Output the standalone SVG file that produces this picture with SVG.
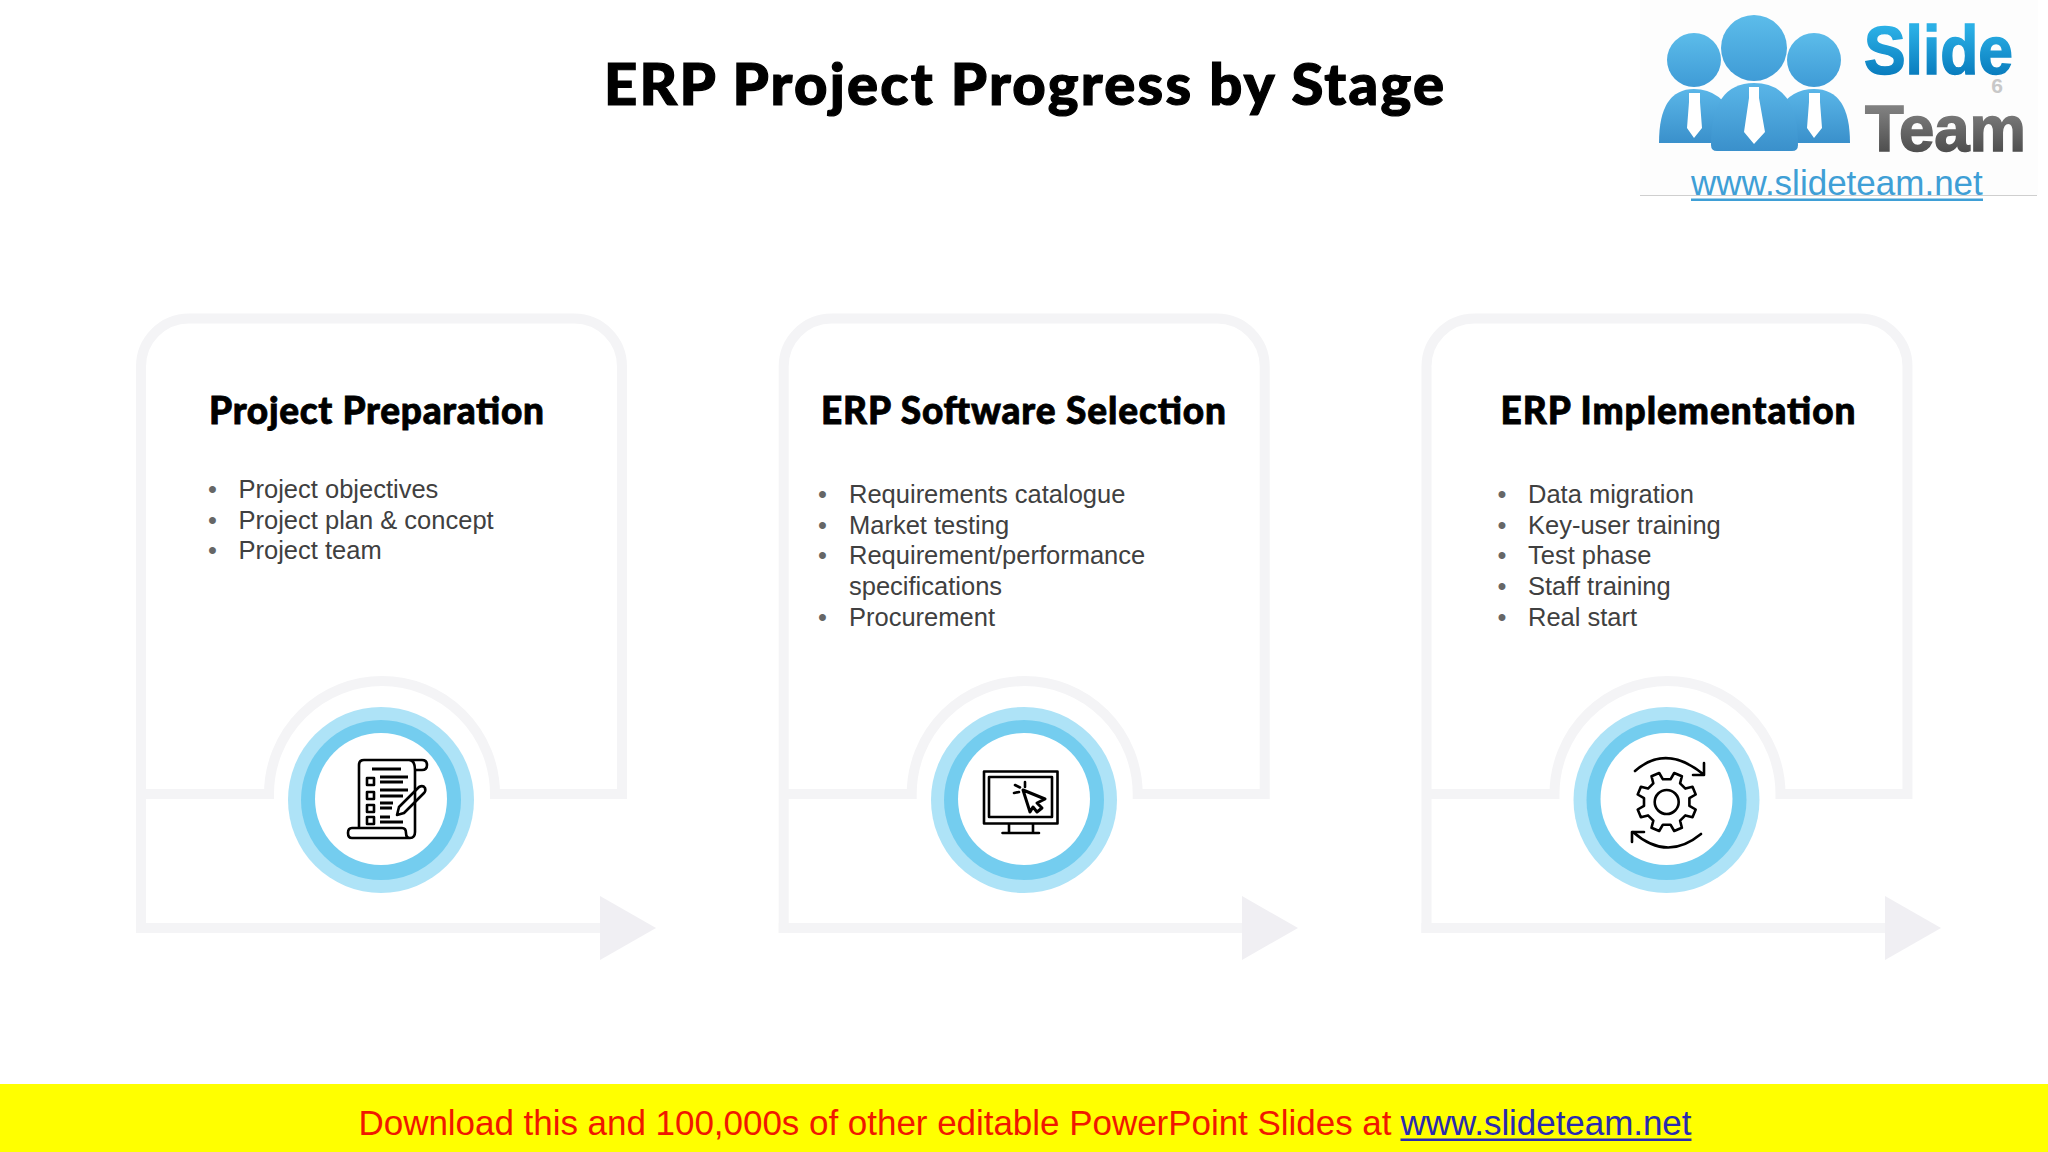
<svg xmlns="http://www.w3.org/2000/svg" width="2048" height="1152" viewBox="0 0 2048 1152">
<style>
text{font-family:"Liberation Sans",Arial,sans-serif}
.title{font-family:Lato,"Liberation Sans",sans-serif;font-weight:900;fill:#000;stroke:#000;stroke-width:1.200}
.h{font-size:37px;stroke-width:.8px}
.b{font-size:25.5px;fill:#404040}
.d{font-size:25.4px;fill:#666}
.frame{fill:none;stroke:#f4f4f6;stroke-width:10}
.conn{fill:none;stroke:#f4f4f6;stroke-width:10}
.ic{fill:none;stroke:#000;stroke-width:2.6;stroke-linejoin:round;stroke-linecap:round}
.ic2{fill:none;stroke:#000;stroke-width:3.2;stroke-linecap:butt}
.o{fill:#aee3f7}.m{fill:#74cdef}.w{fill:#fff}
.body{fill:url(#gb)}.head{fill:url(#gh)}.tie{fill:#fff}
</style>
<defs>
<linearGradient id="gh" x1="0" y1="0" x2="0" y2="1"><stop offset="0" stop-color="#5cbcea"/><stop offset="1" stop-color="#3f9bd6"/></linearGradient>
<linearGradient id="gb" x1="0" y1="0" x2="0" y2="1"><stop offset="0" stop-color="#5ab6e8"/><stop offset="1" stop-color="#3a90cb"/></linearGradient>
<linearGradient id="gs" x1="0" y1="0" x2="0" y2="1"><stop offset="0.2" stop-color="#2bb0e6"/><stop offset="1" stop-color="#006fb3"/></linearGradient>
<linearGradient id="gt" x1="0" y1="0" x2="0" y2="1"><stop offset="0.2" stop-color="#808080"/><stop offset="1" stop-color="#404040"/></linearGradient>
<marker id="ah" markerUnits="userSpaceOnUse" markerWidth="56" markerHeight="64" refX="0" refY="32" orient="auto" viewBox="0 0 56 64"><path d="M0 0L56 32L0 64Z" fill="#f0eff3"/></marker>
<g id="frameShape"><path class="frame" d="M141 933V367A48 48 0 0 1 189 318.500H574A48 48 0 0 1 622 367V794H495A113 113 0 0 0 269 794H141"/></g>
<g id="disc"><circle class="o" cx="0" cy="0" r="93"/><circle class="m" cx="0" cy="0" r="80"/><circle class="w" cx="0" cy="-1" r="66"/></g>
</defs>
<rect width="2048" height="1152" fill="#fff"/>

<g id="logo">
<rect x="1640" y="0" width="398" height="195" fill="#fdfdfd"/>
<path d="M1640 195.500H2037" stroke="#cfcfcf" stroke-width="1"/>
<circle class="head" cx="1694" cy="60" r="27"/><circle class="head" cx="1814" cy="60" r="27"/><circle class="head" cx="1754" cy="48" r="33"/>
<path class="body" d="M1659 143Q1659 89 1694 89Q1722 89 1735 120L1735 143Z"/>
<path class="body" d="M1850 143Q1850 89 1814 89Q1786 89 1773 120L1773 143Z"/>
<path class="body" d="M1711 145Q1711 83 1754 83Q1798 83 1798 145Q1798 151 1792 151H1717Q1711 151 1711 145Z"/>
<path class="tie" d="M1689 93H1700V102L1702 128L1694 138L1687 128L1689 102Z"/>
<path class="tie" d="M1809 93H1820V102L1822 128L1814 138L1807 128L1809 102Z"/>
<path class="tie" d="M1749 87H1759V98L1765 132L1754 144L1744 132L1749 98Z"/>
<text x="1864" y="74" font-size="68" font-weight="700" fill="url(#gs)" stroke="url(#gs)" stroke-width="1.500" textLength="149" lengthAdjust="spacingAndGlyphs">Slide</text>
<text x="1997" y="93" font-size="21" font-weight="700" fill="#c8c8c8" text-anchor="middle">6</text>
<text x="1865" y="151" font-size="64" font-weight="700" fill="url(#gt)" stroke="url(#gt)" stroke-width="1.500" textLength="161" lengthAdjust="spacingAndGlyphs">Team</text>
<text x="1691" y="195" font-size="35" fill="#3f9fd6">www.slideteam.net</text>
<rect x="1691" y="198.500" width="292" height="2.500" fill="#3f9fd6"/>
</g>

<text class="title" x="604" y="105" font-size="58" textLength="840" lengthAdjust="spacing">ERP Project Progress by Stage</text>

<g id="connectors">
<path class="conn" marker-end="url(#ah)" d="M136 928H600"/>
<path class="conn" marker-end="url(#ah)" d="M778.700 928H1242"/>
<path class="conn" marker-end="url(#ah)" d="M1421.500 928H1885"/>
</g>

<g id="card-preparation">
<use href="#frameShape"/>
<text class="title h" x="209" y="424" textLength="335" lengthAdjust="spacing">Project Preparation</text>
<text class="d" x="208" y="497.500">•</text><text class="b" x="238.500" y="497.500">Project objectives</text>
<text class="d" x="208" y="528.500">•</text><text class="b" x="238.500" y="528.500">Project plan &amp; concept</text>
<text class="d" x="208" y="559">•</text><text class="b" x="238.500" y="559">Project team</text>
<use href="#disc" x="381" y="800"/>
<g id="icon-checklist">
<path class="ic" d="M352 838H410Q415 838 415 832V770M359 828V765Q359 760 364 760H422Q427 760 427 765Q427 770 422 770H415M415 770Q415 760 409 760M352 838Q348 838 348 833Q348 828 352 828H402Q406 828 406 833Q406 838 410 838"/>
<path class="ic" d="M367 778H374V785H367ZM367 792H374V799H367ZM367 805H374V812H367ZM367 817H374V824H367Z"/>
<path class="ic2" d="M372 769H401M380 777H408M380 782H403M380 790H408M380 796H403M380 803H393M380 808H392M380 817H390M380 822H403"/>
<path class="ic" d="M397 815L399 807L419 787Q423 785 425 788Q426 791 424 793L404 813Z"/>
</g>
</g>

<g id="card-selection">
<use href="#frameShape" x="642.700"/>
<text class="title h" x="821" y="424" textLength="405" lengthAdjust="spacing">ERP Software Selection</text>
<text class="d" x="818" y="503">•</text><text class="b" x="849" y="503">Requirements catalogue</text>
<text class="d" x="818" y="533.500">•</text><text class="b" x="849" y="533.500">Market testing</text>
<text class="d" x="818" y="564.300">•</text><text class="b" x="849" y="564.300">Requirement/performance</text>
<text class="b" x="849" y="595">specifications</text>
<text class="d" x="818" y="625.500">•</text><text class="b" x="849" y="625.500">Procurement</text>
<use href="#disc" x="1024" y="800"/>
<g id="icon-monitor">
<path class="ic" d="M984 771.500H1057.500V823.500H984ZM989 777H1052V817H989ZM1009 824V832M1033 824V832M1002.500 833H1039"/>
<path d="M1023 790L1045 799L1037 803L1042 808L1037 812L1033 807L1030 812Z" fill="#fff" stroke="#000" stroke-width="3" stroke-linejoin="round"/>
<path class="ic" d="M1015 785L1020 787.500M1025 782L1025 787M1014 793L1019 792"/>
</g>
</g>

<g id="card-implementation">
<use href="#frameShape" x="1285.500"/>
<text class="title h" x="1500.500" y="424" textLength="355" lengthAdjust="spacing">ERP Implementation</text>
<text class="d" x="1497.500" y="503">•</text><text class="b" x="1528" y="503">Data migration</text>
<text class="d" x="1497.500" y="533.500">•</text><text class="b" x="1528" y="533.500">Key-user training</text>
<text class="d" x="1497.500" y="564.300">•</text><text class="b" x="1528" y="564.300">Test phase</text>
<text class="d" x="1497.500" y="595">•</text><text class="b" x="1528" y="595">Staff training</text>
<text class="d" x="1497.500" y="625.500">•</text><text class="b" x="1528" y="625.500">Real start</text>
<use href="#disc" x="1666.500" y="800"/>
<g id="icon-gear">
<polygon class="ic" transform="translate(1666.700 802)" points="22.700,3.800 29,7.500 25.800,15.200 18.700,13.400 13.400,18.700 15.200,25.800 7.500,29 3.800,22.700 -3.800,22.700 -7.500,29 -15.200,25.800 -13.400,18.700 -18.700,13.400 -25.800,15.200 -29,7.500 -22.700,3.800 -22.700,-3.800 -29,-7.500 -25.800,-15.200 -18.700,-13.400 -13.400,-18.700 -15.200,-25.800 -7.500,-29 -3.800,-22.700 3.800,-22.700 7.500,-29 15.200,-25.800 13.400,-18.700 18.700,-13.400 25.800,-15.200 29,-7.500 22.700,-3.800"/>
<circle class="ic" cx="1666.700" cy="802" r="12"/>
<path class="ic" d="M1635 771Q1666 744 1703 774M1704 763V775H1693M1701 834Q1667 862 1633 832M1632 832V842M1632 832H1644"/>
</g>
</g>

<g id="banner">
<rect x="0" y="1084" width="2048" height="68" fill="#ffff00"/>
<text x="358.500" y="1134.500" font-size="35" fill="#f01800" textLength="1033" lengthAdjust="spacing">Download this and 100,000s of other editable PowerPoint Slides at</text>
<text x="1400.500" y="1134.500" font-size="35" fill="#2a2ab0" textLength="291" lengthAdjust="spacing">www.slideteam.net</text>
<rect x="1400.500" y="1138.500" width="291" height="2.500" fill="#2a2ab0"/>
</g>
</svg>
